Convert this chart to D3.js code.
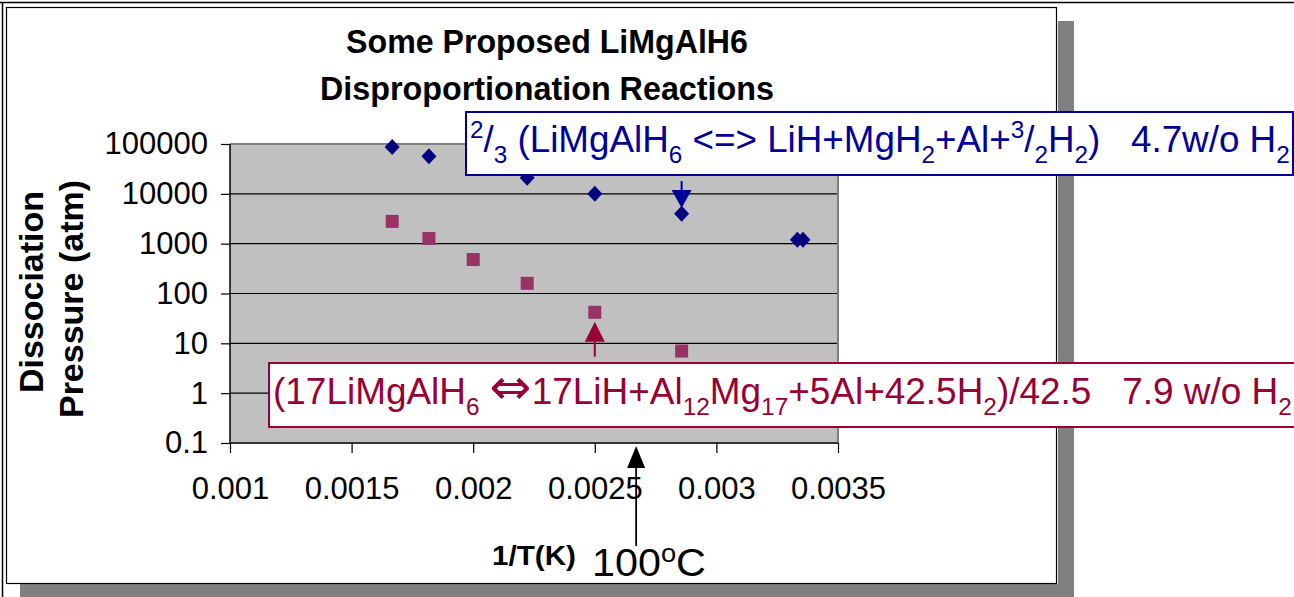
<!DOCTYPE html>
<html>
<head>
<meta charset="utf-8">
<script src="https://cdn.jsdelivr.net/npm/d3@7"></script>
<style>
  html, body { margin: 0; padding: 0; background: #fff; }
  svg { display: block; }
  text { font-family: "Liberation Sans", Arial, sans-serif; }
</style>
</head>
<body>
<svg id="chart" width="1294" height="597"></svg>
<script>
// Dissociation pressure vs inverse temperature for two proposed reactions
const xTicks = [0.001, 0.0015, 0.002, 0.0025, 0.003, 0.0035];
const xTickLabels = ["0.001", "0.0015", "0.002", "0.0025", "0.003", "0.0035"];
const yTicks = [0.1, 1, 10, 100, 1000, 10000, 100000];
const yTickLabels = ["0.1", "1", "10", "100", "1000", "10000", "100000"];

// 2/3 (LiMgAlH6 <=> LiH + MgH2 + Al + 3/2 H2)
const hydrideInvT = [0.001667, 0.001818, 0.002222, 0.0025, 0.002857, 0.003333, 0.003356];
const hydrideP    = [87000, 57000, 21000, 10000, 4000, 1200, 1200];

// (17LiMgAlH6 <=> 17LiH + Al12Mg17 + 5Al + 42.5H2)/42.5
const alloyInvT = [0.001667, 0.001818, 0.002, 0.002222, 0.0025, 0.002857];
const alloyP    = [2800, 1270, 480, 160, 42, 7];

// arrows: [x, fromP, toP]
const hydrideArrow = [0.002857, 18000, 5200];
const alloyArrow   = [0.0025, 5.4, 27];
const boilingInvT  = 0.00267;   // 100 °C

const svg = d3.select("#chart");

// page frame and chart panel with drop shadow
svg.append("line").attr("x1", 0).attr("x2", 1294).attr("y1", 2.5).attr("y2", 2.5)
  .attr("stroke", "#000").attr("stroke-width", 1.5);
svg.append("line").attr("x1", 2.5).attr("x2", 2.5).attr("y1", 2).attr("y2", 597)
  .attr("stroke", "#000").attr("stroke-width", 1.5);
svg.append("rect").attr("x", 1058).attr("y", 21).attr("width", 16).attr("height", 576).attr("fill", "#808080");
svg.append("rect").attr("x", 20).attr("y", 584).attr("width", 1054).attr("height", 13).attr("fill", "#808080");
svg.append("rect").attr("x", 6.5).attr("y", 7.5).attr("width", 1050).attr("height", 576)
  .attr("fill", "#fff").attr("stroke", "#000").attr("stroke-width", 1.2);

const plot = { left: 230, right: 838, top: 144, bottom: 443 };
const x = d3.scaleLinear().domain([0.001, 0.0035]).range([plot.left, plot.right]);
const y = d3.scaleLog().domain([0.1, 100000]).range([plot.bottom, plot.top]);

// plot area
svg.append("rect").attr("x", plot.left).attr("y", plot.top)
  .attr("width", plot.right - plot.left).attr("height", plot.bottom - plot.top)
  .attr("fill", "#c0c0c0");
svg.append("g").selectAll("line").data(yTicks.slice(1, -1)).join("line")
  .attr("x1", plot.left).attr("x2", plot.right)
  .attr("y1", d => y(d)).attr("y2", d => y(d))
  .attr("stroke", "#000").attr("stroke-width", 1.2);
svg.append("path")
  .attr("d", `M${plot.left},${plot.top}H${plot.right}V${plot.bottom}`)
  .attr("fill", "none").attr("stroke", "#808080").attr("stroke-width", 2);

// axes
const yAxis = d3.axisLeft(y).tickValues(yTicks).tickSize(9).tickPadding(13)
  .tickFormat((d, i) => yTickLabels[i]);
const gy = svg.append("g").attr("transform", `translate(${plot.left},0)`).call(yAxis);
const xAxis = d3.axisBottom(x).tickValues(xTicks).tickSize(10).tickPadding(24)
  .tickFormat((d, i) => xTickLabels[i]);
const gx = svg.append("g").attr("transform", `translate(0,${plot.bottom})`).call(xAxis);
[gx, gy].forEach(g => {
  g.select(".domain").attr("stroke", "#000").attr("stroke-width", 1.5);
  g.selectAll(".tick line").attr("stroke", "#000").attr("stroke-width", 1.2);
  g.selectAll(".tick text").attr("font-size", 31).attr("fill", "#000")
    .attr("font-family", "'Liberation Sans', Arial, sans-serif");
});
gx.select(".domain").attr("d", `M${plot.left},0H${plot.right}`).attr("stroke", "#333").attr("stroke-width", 2);
gy.select(".domain").attr("d", `M0,${plot.top}V${plot.bottom}`);

// series markers
const diamondPath = "M0,-8L7.5,0L0,8L-7.5,0Z";
svg.append("g").selectAll("path").data(hydrideInvT).join("path")
  .attr("d", diamondPath)
  .attr("transform", (d, i) => `translate(${x(d)},${y(hydrideP[i])})`)
  .attr("fill", "#000080");
svg.append("g").selectAll("rect").data(alloyInvT).join("rect")
  .attr("x", d => x(d) - 6.5).attr("y", (d, i) => y(alloyP[i]) - 6.5)
  .attr("width", 13).attr("height", 13)
  .attr("fill", "#993366");

// arrows
function arrow(xv, y0, y1, color, headW, headL, width) {
  const g = svg.append("g");
  const dir = Math.sign(y1 - y0);
  g.append("line").attr("x1", xv).attr("x2", xv).attr("y1", y0).attr("y2", y1 - dir * headL)
    .attr("stroke", color).attr("stroke-width", width);
  g.append("path")
    .attr("d", `M${xv},${y1}L${xv - headW / 2},${y1 - dir * headL}L${xv + headW / 2},${y1 - dir * headL}Z`)
    .attr("fill", color);
}
arrow(x(hydrideArrow[0]), y(hydrideArrow[1]), y(hydrideArrow[2]), "#000099", 20, 18, 2);
arrow(x(alloyArrow[0]), y(alloyArrow[1]), y(alloyArrow[2]), "#990033", 20, 20, 2);
arrow(x(boilingInvT), 546, plot.bottom + 3, "#000", 18, 22, 1.8);

// rich text helper: parts are [string, "sub" | "sup" | "sym" | null]
function richText(parent, px, py, parts, size, color, weight) {
  const t = parent.append("text").attr("x", px).attr("y", py)
    .attr("font-size", size).attr("fill", color)
    .attr("font-weight", weight || "normal")
    .style("white-space", "pre");
  let shift = 0;
  parts.forEach(([s, kind]) => {
    let target = 0, fs = size;
    if (kind === "sub") { target = size * 0.3; fs = size * 0.66; }
    if (kind === "sup") { target = -size * 0.38; fs = size * 0.66; }
    const ts = t.append("tspan").attr("dy", target - shift).attr("font-size", fs).text(s);
    if (kind === "sym") ts.attr("font-size", size * 1.35).attr("font-family", "'DejaVu Sans', sans-serif");
    shift = target;
  });
  return t;
}
function fitWidth(t, x0, width) {
  const b = t.node().getBBox();
  const s = width / b.width;
  t.attr("transform", `translate(${x0},0) scale(${s},1) translate(${-b.x},0)`);
}

// title
const title1 = svg.append("text").attr("x", 547).attr("y", 53).attr("text-anchor", "middle")
  .attr("font-size", 34).attr("font-weight", "bold").text("Some Proposed LiMgAlH6");
fitWidth(title1, 346, 402);
const title2 = svg.append("text").attr("x", 547).attr("y", 100).attr("text-anchor", "middle")
  .attr("font-size", 34).attr("font-weight", "bold").text("Disproportionation Reactions");
fitWidth(title2, 320, 454);

// axis titles
svg.append("text").attr("transform", "translate(43,292) rotate(-90)").attr("text-anchor", "middle")
  .attr("font-size", 34).attr("font-weight", "bold").text("Dissociation");
svg.append("text").attr("transform", "translate(83,299) rotate(-90)").attr("text-anchor", "middle")
  .attr("font-size", 34).attr("font-weight", "bold").text("Pressure (atm)");
const xt = svg.append("text").attr("x", 493).attr("y", 565)
  .attr("font-size", 27).attr("font-weight", "bold").text("1/T(K)");
fitWidth(xt, 492, 84);
const bt = richText(svg, 592, 576, [["100", null], ["o", "sup"], ["C", null]], 38, "#000");
fitWidth(bt, 592, 114);

// reaction labels
svg.append("rect").attr("x", 466).attr("y", 112).attr("width", 827).attr("height", 63)
  .attr("fill", "#fff").attr("stroke", "#000099").attr("stroke-width", 2);
const blueLabel = richText(svg, 470, 152, [
  ["2", "sup"], ["/", null], ["3", "sub"], [" (LiMgAlH", null], ["6", "sub"],
  [" <=> LiH+MgH", null], ["2", "sub"], ["+Al+", null], ["3", "sup"], ["/", null],
  ["2", "sub"], ["H", null], ["2", "sub"], [")   4.7w/o H", null], ["2", "sub"]
], 36, "#000099");
fitWidth(blueLabel, 470, 820);

svg.append("rect").attr("x", 269).attr("y", 363).attr("width", 1030).attr("height", 64)
  .attr("fill", "#fff").attr("stroke", "#990033").attr("stroke-width", 2);
const redLabel = richText(svg, 273, 404, [
  ["(17LiMgAlH", null], ["6", "sub"], [" ", null], ["\u21D4", "sym"], ["17LiH+Al", null], ["12", "sub"],
  ["Mg", null], ["17", "sub"], ["+5Al+42.5H", null], ["2", "sub"],
  [")/42.5   7.9 w/o H", null], ["2", "sub"]
], 37, "#990033");
fitWidth(redLabel, 273, 1019);
</script>
</body>
</html>
